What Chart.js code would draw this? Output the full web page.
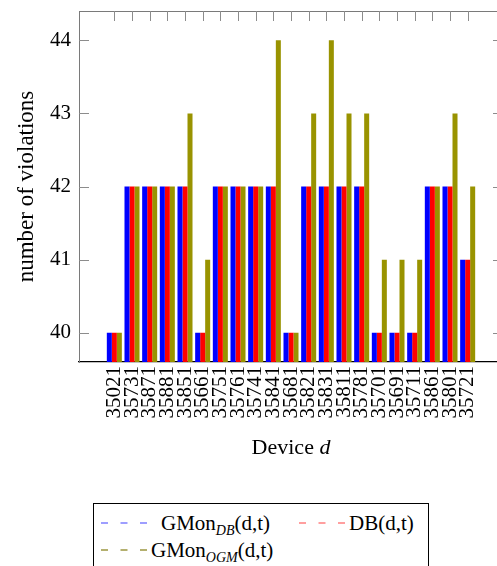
<!DOCTYPE html>
<html>
<head>
<meta charset="utf-8">
<script src="https://cdn.jsdelivr.net/npm/chart.js@4"></script>
<style>
  html, body { margin: 0; padding: 0; background: #fff; overflow: hidden; width: 497px; height: 566px; }
  #wrap { position: absolute; left: 0; top: 0; width: 560px; height: 495px; }
  #legend { position: absolute; left: 93px; top: 503px; width: 334px; height: 80px; border: 1px solid #000; background: #fff;
            font-family: "Liberation Serif", serif; font-size: 21px; color: #000; }
  .item { position: absolute; white-space: nowrap; line-height: 24px; }
  .item sub { font-size: 14px; font-style: italic; vertical-align: -5px; line-height: 0; }
  .dash { position: absolute; }
</style>
</head>
<body>
<div id="wrap"><canvas id="c"></canvas></div>
<div id="legend"></div>
<script>
const devices = ["35021","35731","35871","35881","35851","35661","35751","35761","35741","35841",
                 "35681","35821","35831","35811","35781","35701","35691","35711","35861","35801","35721"];
const gmonDB  = [40,42,42,42,42,40,42,42,42,42,40,42,42,42,42,40,40,40,42,42,41];
const dbVals  = [40,42,42,42,42,40,42,42,42,42,40,42,42,42,42,40,40,40,42,42,41];
const gmonOGM = [40,42,42,42,43,41,42,42,42,44,40,43,44,43,43,41,41,41,42,43,42];
const yTicks  = [40,41,42,43,44];
const seriesNames = ["GMon_DB(d,t)", "DB(d,t)", "GMon_OGM(d,t)"];

const FONT = "Liberation Serif";
const toPts = arr => arr.map((v, i) => ({x: i, y: v}));

const framePlugin = {
  id: 'frame',
  afterDraw(chart) {
    const ctx = chart.ctx, a = chart.chartArea;
    const xs = chart.scales.x, ys = chart.scales.y;
    ctx.save();
    ctx.lineWidth = 1;
    ctx.strokeStyle = '#7a7a7a';
    ctx.beginPath(); ctx.moveTo(a.left, a.top + 0.5); ctx.lineTo(a.right, a.top + 0.5); ctx.stroke();
    ctx.strokeStyle = '#8c8c8c';
    devices.forEach((d, i) => {
      const px = Math.round(xs.getPixelForValue(i)) + 0.5;
      ctx.beginPath(); ctx.moveTo(px, a.top); ctx.lineTo(px, a.top + 10); ctx.stroke();
    });
    yTicks.forEach(v => {
      const py = Math.round(ys.getPixelForValue(v)) + 0.5;
      ctx.beginPath(); ctx.moveTo(a.left, py); ctx.lineTo(a.left + 10, py); ctx.stroke();
      ctx.beginPath(); ctx.moveTo(a.right, py); ctx.lineTo(a.right - 10, py); ctx.stroke();
    });
    ctx.fillStyle = '#000';
    ctx.textBaseline = 'middle';
    const fN = '22px "' + FONT + '"', fI = 'italic 22px "' + FONT + '"';
    ctx.font = fN;
    const t1 = 'Device ';
    const w1 = ctx.measureText(t1).width;
    ctx.font = fI;
    const w2 = ctx.measureText('d').width;
    const cx = (a.left + a.right) / 2;
    const sx = cx - (w1 + w2) / 2;
    ctx.font = fN;
    ctx.fillText(t1, sx, 448);
    ctx.font = fI;
    ctx.fillText('d', sx + w1, 448);
    ctx.restore();
  }
};

new Chart(document.getElementById('c'), {
  type: 'bar',
  data: {
    datasets: [
      { label: seriesNames[0], data: toPts(gmonDB),  backgroundColor: '#0000ff', borderWidth: 0 },
      { label: seriesNames[1], data: toPts(dbVals),  backgroundColor: '#ff0000', borderWidth: 0 },
      { label: seriesNames[2], data: toPts(gmonOGM), backgroundColor: '#999300', borderWidth: 0 }
    ]
  },
  options: {
    responsive: true,
    maintainAspectRatio: false,
    animation: false,
    events: [],
    devicePixelRatio: 1,
    layout: { padding: { left: 0, top: 11, right: 57, bottom: 0 } },
    datasets: { bar: { categoryPercentage: 0.85, barPercentage: 1.0 } },
    plugins: { legend: { display: false }, tooltip: { enabled: false } },
    scales: {
      x: {
        type: 'linear',
        min: -2, max: 22,
        offset: false,
        grid: { display: false, drawTicks: false },
        border: { display: true, color: '#000', width: 1.3 },
        afterBuildTicks: s => { s.ticks = devices.map((d, i) => ({ value: i })); },
        afterFit: s => { s.height = 133; s.paddingLeft = 0; s.paddingRight = 0; s.paddingTop = 0; s.paddingBottom = 0; },
        ticks: {
          autoSkip: false, minRotation: 90, maxRotation: 90, padding: 4,
          color: '#000', font: { family: FONT, size: 21 },
          callback: v => devices[v] ?? ''
        }
      },
      y: {
        min: 39.6, max: 44.4,
        grid: { display: false, drawTicks: false },
        border: { display: true, color: '#7a7a7a', width: 1 },
        afterBuildTicks: s => { s.ticks = yTicks.map(v => ({ value: v })); },
        afterFit: s => { s.width = 79; s.paddingTop = 0; s.paddingBottom = 0; s.paddingLeft = 0; s.paddingRight = 0; },
        ticks: { padding: 8, color: '#000', font: { family: FONT, size: 21 } },
        title: { display: true, text: 'number of violations', color: '#000',
                 font: { family: FONT, size: 23 }, padding: { top: 13, bottom: 0 } }
      }
    }
  },
  plugins: [framePlugin]
});

const legendItems = [
  { color: '#7f7fff', dx: 7,   dy: 8,  tx: 67,  name: 'GMon', sub: 'DB',  tail: '(d,t)' },
  { color: '#ff8080', dx: 205, dy: 8,  tx: 255, name: 'DB',   sub: '',    tail: '(d,t)' },
  { color: '#9c9640', dx: 7,   dy: 35, tx: 57,  name: 'GMon', sub: 'OGM', tail: '(d,t)' }
];
const lg = document.getElementById('legend');
legendItems.forEach(it => {
  const svg = document.createElementNS('http://www.w3.org/2000/svg', 'svg');
  svg.setAttribute('width', '47'); svg.setAttribute('height', '4');
  svg.setAttribute('class', 'dash');
  svg.style.left = it.dx + 'px'; svg.style.top = (it.dy + 9) + 'px';
  const ln = document.createElementNS('http://www.w3.org/2000/svg', 'line');
  ln.setAttribute('x1', '0'); ln.setAttribute('y1', '2'); ln.setAttribute('x2', '47'); ln.setAttribute('y2', '2');
  ln.setAttribute('stroke', it.color); ln.setAttribute('stroke-width', '1.3');
  ln.setAttribute('stroke-dasharray', '7 12.5');
  svg.appendChild(ln);
  lg.appendChild(svg);
  const d = document.createElement('div');
  d.className = 'item';
  d.style.left = it.tx + 'px'; d.style.top = (it.dy - 1) + 'px';
  d.innerHTML = it.name + (it.sub ? '<sub>' + it.sub + '</sub>' : '') + it.tail;
  lg.appendChild(d);
});
</script>
</body>
</html>
